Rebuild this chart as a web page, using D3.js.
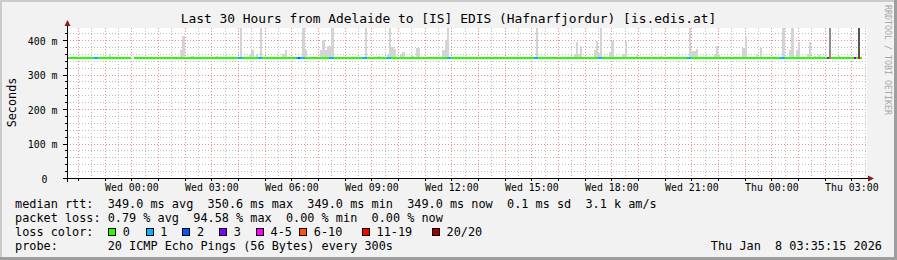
<!DOCTYPE html>
<html>
<head>
<meta charset="utf-8">
<script src="https://cdn.jsdelivr.net/npm/d3@7"></script>
<style>
  body { margin: 0; background: #f2f2f2; }
  svg text { font-family: "DejaVu Sans Mono", monospace; white-space: pre; }
</style>
</head>
<body>
<svg id="chart" width="897" height="260"></svg>
<script>
// times are minutes from Wed 07 Jan 2026 00:00 (graph clock)
var titleText = "Last 30 Hours from Adelaide to [IS] EDIS (Hafnarfjordur) [is.edis.at]";

// median rtt runs (ms), slot start minutes [from, to)
var medianFrom = [-145, 5];
var medianTo   = [0, 1645];
var medianMs   = [349.0, 349.0];

// packets lost (of 20) per 5 min slot, all other slots are 0
var lossTimes = [-85, -80, 240, 245, 285, 290, 370, 375, 380, 385, 445, 450, 520, 525, 575, 580,
                 710, 715, 905, 910, 1050, 1055, 1250, 1255, 1460, 1465, 1565, 1570, 1625, 1635];
var lossPings = [1, 1, 1, 1, 1, 1, 1, 2, 1, 1, 1, 1, 1, 1, 1, 1,
                 1, 1, 1, 1, 1, 1, 1, 1, 1, 1, 2, 8, 3, 15];

// smoke: highest ping (ms) per slot where it rises above the median
var smokeTimes = [-50, 110, 115, 135, 190, 245, 265, 270, 280, 290, 340, 345, 385, 390,
                  425, 430, 435, 440, 445, 450, 525, 555, 575, 580, 585, 590, 605, 610, 630, 640, 645,
                  700, 705, 710, 910, 995, 1000, 1005, 1010, 1040, 1045, 1050, 1055, 1075, 1080,
                  1105, 1110, 1135, 1190, 1255, 1260, 1265, 1270, 1310, 1315, 1320, 1375, 1380,
                  1405, 1415, 1465, 1480, 1485, 1495, 1500, 1520, 1525, 1535, 1545, 1570, 1590, 1635];
var smokeTops  = [360, 371, 412, 355, 354, 450, 357, 370, 360, 450, 360, 370, 450, 370,
                  371, 400, 372, 383, 383, 450, 450, 355, 360, 450, 380, 375, 360, 365, 355, 378, 378,
                  372, 400, 450, 450, 361, 395, 361, 383, 370, 397, 362, 450, 364, 397,
                  361, 397, 357, 354, 450, 367, 367, 373, 361, 382, 356, 376, 413,
                  360, 378, 450, 372, 450, 370, 393, 360, 393, 353, 357, 450, 354, 450];

// loss colour legend
var lossLabels = ["0", "1", "2", "3", "4-5", "6-10", "11-19", "20/20"];
var lossUpper  = [0, 1, 2, 3, 5, 10, 19, 20];
var lossColors = ["#26ff00", "#00b8ff", "#0059ff", "#7e00ff", "#ff00ff", "#ff5500", "#ff0000", "#a10000"];

var yTicks = [0, 100, 200, 300, 400];
var rttStats  = ["349.0 ms avg", "350.6 ms max", "349.0 ms min", "349.0 ms now", "0.1 ms sd", "3.1 k am/s"];
var lossStats = ["0.79 % avg", "94.58 % max", "0.00 % min", "0.00 % now"];
var probeText = "20 ICMP Echo Pings (56 Bytes) every 300s";
var stampText = "Thu Jan  8 03:35:15 2026";

var W = 897, H = 260;
var margin = {top: 28, left: 67, right: 30, bottom: 82};
var pw = W - margin.left - margin.right;
var ph = H - margin.top - margin.bottom;

var t0 = Date.UTC(2026, 0, 7, 0, 0, 0);
var at = function(m) { return new Date(t0 + m * 60000); };

var x = d3.scaleUtc()
          .domain([at(-144.75), at(1655.25)])
          .range([margin.left, margin.left + pw]);
var y = d3.scaleLinear()
          .domain([0, 435])
          .range([margin.top + ph, margin.top]);
var lossColor = d3.scaleThreshold()
          .domain(lossUpper.slice(0, -1).map(function(d) { return d + 1; }))
          .range(lossColors);
var smokeShade = d3.scaleLinear()
          .domain([0, 2, 8, 15])
          .range(["#d4d4d4", "#d4d4d4", "#8c8c8c", "#565656"])
          .clamp(true);

var svg = d3.select('#chart');

// background + 3d frame
svg.append('rect').attr('width', W).attr('height', H).attr('fill', '#f2f2f2');
svg.append('rect').attr('x', 0).attr('y', 0).attr('width', W).attr('height', 2).attr('fill', '#cbcbcb');
svg.append('rect').attr('x', 0).attr('y', 0).attr('width', 2).attr('height', H).attr('fill', '#cbcbcb');
svg.append('rect').attr('x', 0).attr('y', H - 3).attr('width', W).attr('height', 3).attr('fill', '#9e9e9e');
svg.append('rect').attr('x', W - 3).attr('y', 0).attr('width', 3).attr('height', H).attr('fill', '#9e9e9e');

svg.append('rect')
   .attr('x', margin.left).attr('y', margin.top)
   .attr('width', pw).attr('height', ph)
   .attr('fill', '#ffffff');

svg.append('clipPath').attr('id', 'plot')
   .append('rect')
   .attr('x', margin.left).attr('y', margin.top)
   .attr('width', pw).attr('height', ph);

// grid
var grid = svg.append('g').attr('shape-rendering', 'crispEdges');
var yMinor = d3.range(20, 435, 20).filter(function(v) { return v % 100 != 0; });
var xMinor = d3.utcMinute.every(30).range(x.domain()[0], x.domain()[1]);
var xMajor = d3.utcHour.every(1).range(x.domain()[0], x.domain()[1]);

grid.selectAll('.ymin').data(yMinor).enter().append('line')
    .attr('x1', margin.left).attr('x2', margin.left + pw)
    .attr('y1', function(d) { return Math.round(y(d)) + 0.5; })
    .attr('y2', function(d) { return Math.round(y(d)) + 0.5; })
    .attr('stroke', '#bdbdbd').attr('stroke-dasharray', '1,2');
grid.selectAll('.xmin').data(xMinor).enter().append('line')
    .attr('y1', margin.top).attr('y2', margin.top + ph)
    .attr('x1', function(d) { return Math.round(x(d)) + 0.5; })
    .attr('x2', function(d) { return Math.round(x(d)) + 0.5; })
    .attr('stroke', '#bdbdbd').attr('stroke-dasharray', '1,2');
grid.selectAll('.ymaj').data(yTicks.slice(1)).enter().append('line')
    .attr('x1', margin.left).attr('x2', margin.left + pw)
    .attr('y1', function(d) { return Math.round(y(d)) + 0.5; })
    .attr('y2', function(d) { return Math.round(y(d)) + 0.5; })
    .attr('stroke', '#f08c8c').attr('stroke-dasharray', '1,2');
grid.selectAll('.xmaj').data(xMajor).enter().append('line')
    .attr('y1', margin.top).attr('y2', margin.top + ph)
    .attr('x1', function(d) { return Math.round(x(d)) + 0.5; })
    .attr('x2', function(d) { return Math.round(x(d)) + 0.5; })
    .attr('stroke', '#f08c8c').attr('stroke-dasharray', '1,2');

// slots
var lossAt = {};
lossTimes.forEach(function(t, i) { lossAt[t] = lossPings[i]; });
var slots = [];
medianFrom.forEach(function(f, i) {
  d3.range(f, medianTo[i], 5).forEach(function(t) {
    slots.push({t: t, ms: medianMs[i], loss: lossAt[t] || 0});
  });
});
var medianAt = {};
slots.forEach(function(s) { medianAt[s.t] = s.ms; });
var smoke = smokeTimes.map(function(t, i) {
  return {t: t, top: smokeTops[i], base: medianAt[t] || 349, loss: lossAt[t] || 0};
});

var plot = svg.append('g').attr('clip-path', 'url(#plot)').attr('shape-rendering', 'crispEdges');

plot.selectAll('.smoke').data(smoke).enter().append('rect')
    .attr('x', function(d) { return x(at(d.t)); })
    .attr('width', function(d) { return x(at(d.t + 5)) - x(at(d.t)); })
    .attr('y', function(d) { return y(d.top); })
    .attr('height', function(d) { return y(d.base) - y(d.top); })
    .attr('fill', function(d) { return smokeShade(d.loss); });

plot.selectAll('.median').data(slots).enter().append('rect')
    .attr('x', function(d) { return x(at(d.t)); })
    .attr('width', function(d) { return x(at(d.t + 5)) - x(at(d.t)); })
    .attr('y', function(d) { return y(d.ms) - 1; })
    .attr('height', 2)
    .attr('fill', function(d) { return lossColor(d.loss); });

// axes
var xTickAxis = d3.axisBottom(x).ticks(d3.utcHour.every(1)).tickSize(3).tickFormat('');
svg.append('g').attr('transform', 'translate(0,' + (margin.top + ph) + ')')
   .call(xTickAxis)
   .call(function(g) { g.select('.domain').remove(); })
   .selectAll('line').attr('stroke', '#000').attr('shape-rendering', 'crispEdges');

var xAxis = d3.axisBottom(x)
              .ticks(d3.utcHour.every(3))
              .tickFormat(d3.utcFormat('%a %H:%M'))
              .tickSize(0);
var xg = svg.append('g').attr('transform', 'translate(0,' + (margin.top + ph) + ')').call(xAxis);
xg.select('.domain').remove();
xg.selectAll('text')
  .attr('y', 12.5).attr('dy', null)
  .attr('font-size', '9.9px').attr('fill', '#000')
  .style('font-family', '"DejaVu Sans Mono", monospace');

var yMinorAxis = d3.axisLeft(y).tickValues(yMinor).tickSize(2).tickFormat('');
svg.append('g').attr('transform', 'translate(' + margin.left + ',0)')
   .call(yMinorAxis)
   .call(function(g) { g.select('.domain').remove(); })
   .selectAll('line').attr('stroke', '#000').attr('shape-rendering', 'crispEdges');

var yAxis = d3.axisLeft(y)
              .tickValues(yTicks)
              .tickSize(4)
              .tickFormat(function(d) { return d ? d + ' m' : '0'; });
var yg = svg.append('g').attr('transform', 'translate(' + margin.left + ',0)').call(yAxis);
yg.select('.domain').remove();
yg.selectAll('line').attr('stroke', '#000').attr('shape-rendering', 'crispEdges');
yg.selectAll('text')
  .attr('x', function(d) { return d ? -9.5 : -19.5; })
  .attr('dy', '0.43em')
  .attr('font-size', '9.9px').attr('fill', '#000')
  .style('font-family', '"DejaVu Sans Mono", monospace');

// axis lines with arrows
var ax = svg.append('g').attr('shape-rendering', 'crispEdges');
ax.append('line')
  .attr('x1', margin.left - 4).attr('x2', margin.left + pw + 2)
  .attr('y1', margin.top + ph + 0.5).attr('y2', margin.top + ph + 0.5)
  .attr('stroke', '#000');
ax.append('line')
  .attr('x1', margin.left + 0.5).attr('x2', margin.left + 0.5)
  .attr('y1', margin.top + ph + 4).attr('y2', margin.top - 3)
  .attr('stroke', '#000');
svg.append('path')
   .attr('d', 'M' + (margin.left + pw + 1) + ',' + (margin.top + ph - 2.5) +
              'l6,3l-6,3z')
   .attr('fill', '#8b1a1a');
svg.append('path')
   .attr('d', 'M' + (margin.left - 2.5) + ',' + (margin.top - 2) +
              'l3,-6l3,6z')
   .attr('fill', '#8b1a1a');

// title, labels, watermark
svg.append('text')
   .attr('x', W / 2).attr('y', 23)
   .attr('text-anchor', 'middle')
   .attr('font-size', '12.9px')
   .text(titleText);

svg.append('text')
   .attr('transform', 'translate(15.5,102.5) rotate(-90)')
   .attr('text-anchor', 'middle')
   .attr('font-size', '11.8px')
   .text('Seconds');

svg.append('text')
   .attr('transform', 'translate(885,5) rotate(90)')
   .attr('font-size', '8.3px')
   .attr('fill', '#a8a8a8')
   .text('RRDTOOL / TOBI OETIKER');

// legend
var legend = svg.append('g').attr('font-size', '11.85px').attr('fill', '#000');
legend.append('text').attr('x', 15).attr('y', 208)
      .text('median rtt:  ' + rttStats.join('  '));
legend.append('text').attr('x', 15).attr('y', 222)
      .text('packet loss: ' + lossStats.join('  '));
legend.append('text').attr('x', 15).attr('y', 236)
      .text('loss color:');
legend.append('text').attr('x', 15).attr('y', 250)
      .text('probe:       ' + probeText);
legend.append('text').attr('x', 882).attr('y', 250)
      .attr('text-anchor', 'end')
      .text(stampText);

var swatchX = [108, 145.5, 182.3, 219, 255.7, 299, 361.7, 431.7];
var items = legend.selectAll('.item').data(lossLabels).enter().append('g')
      .attr('transform', function(d, i) { return 'translate(' + swatchX[i] + ',0)'; });
items.append('rect')
     .attr('x', 0.5).attr('y', 228.5).attr('width', 7).attr('height', 7)
     .attr('fill', function(d, i) { return lossColors[i]; })
     .attr('stroke', '#000').attr('shape-rendering', 'crispEdges');
items.append('text')
     .attr('x', 14.8).attr('y', 236)
     .text(function(d) { return d; });
</script>
</body>
</html>
